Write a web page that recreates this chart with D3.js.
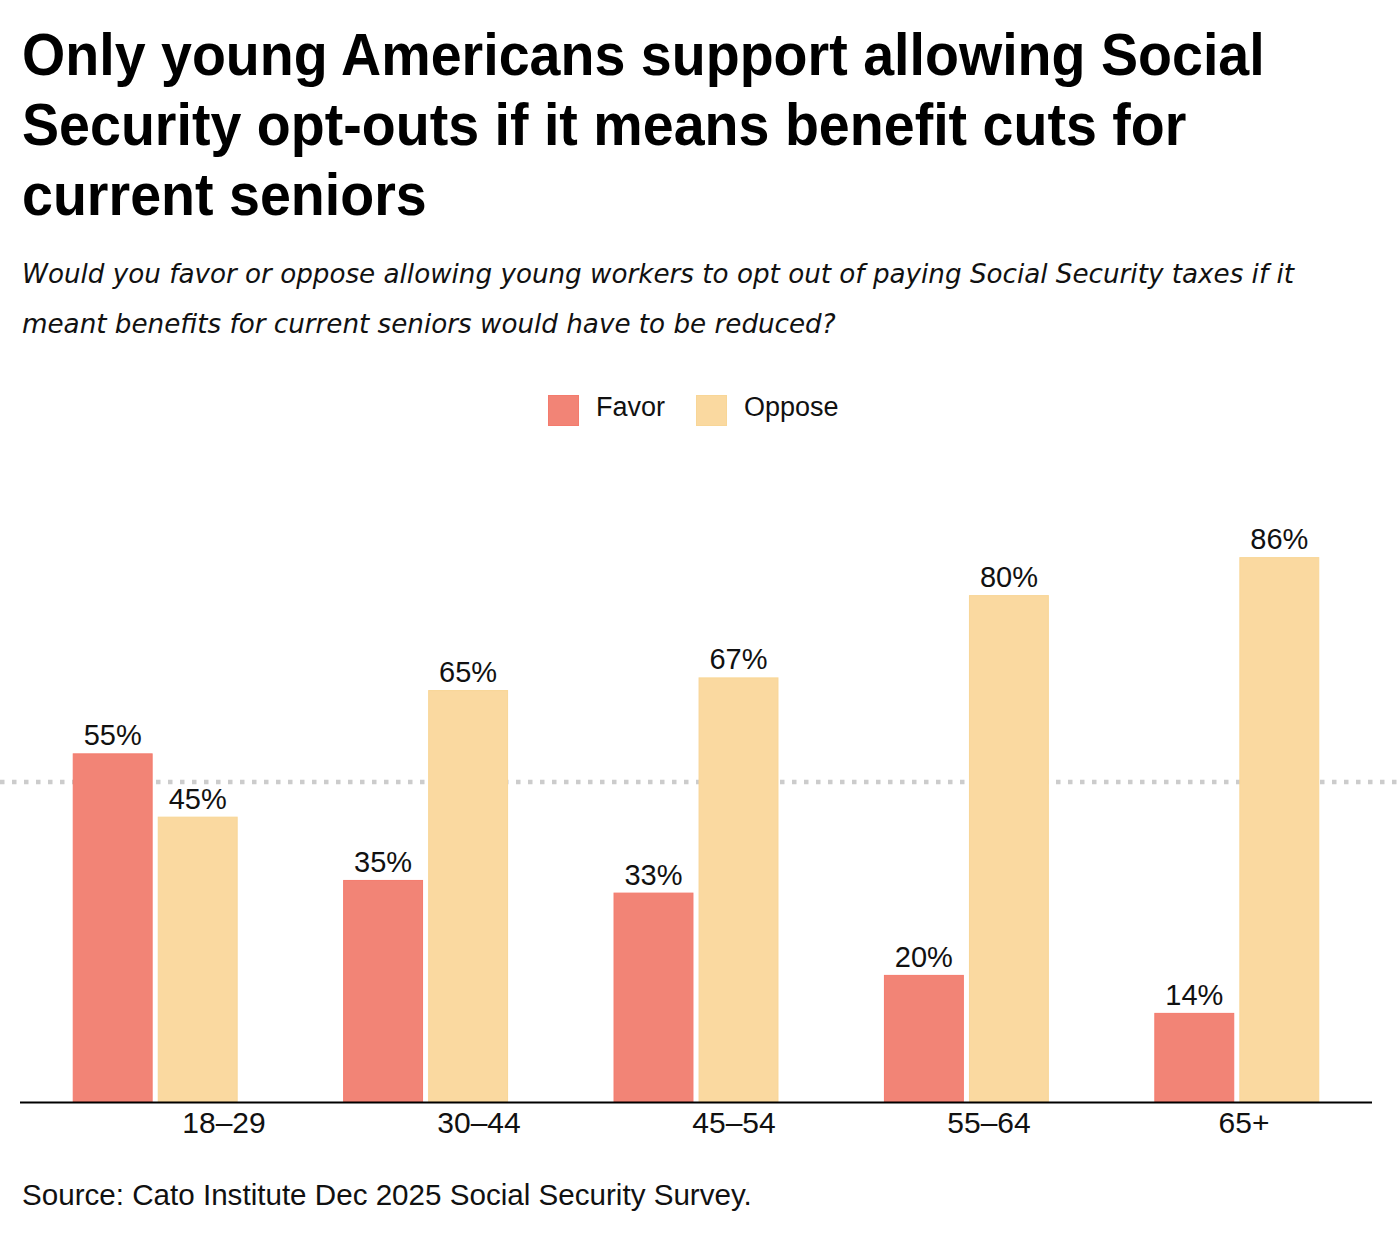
<!DOCTYPE html>
<html>
  <head>
    <title>Social Security opt-outs by age</title>
    <style>
      body,
      html {
        margin: 0;
        padding: 0;
        background: #fff;
      }
      text {
        font-family: 'Liberation Sans', Arial, sans-serif;
        fill: #111;
      }
      .title {
        font-weight: 700;
        font-size: 59px;
        fill: #000;
      }
      .subtitle {
        font-family: 'DejaVu Sans', sans-serif;
        font-style: italic;
        font-size: 26.2px;
      }
    </style>
  </head>
  <body>
    <svg id="svg" width="1400" height="1246"></svg>
    <script src="https://cdn.jsdelivr.net/npm/d3@7"></script>
    <script>
      const ageGroups = ['18–29', '30–44', '45–54', '55–64', '65+'];
      const seriesNames = ['Favor', 'Oppose'];
      const favor = [55, 35, 33, 20, 14];
      const oppose = [45, 65, 67, 80, 86];
      const referenceValue = 50;

      const titleLines = [
        'Only young Americans support allowing Social',
        'Security opt-outs if it means benefit cuts for',
        'current seniors',
      ];
      const subtitleLines = [
        'Would you favor or oppose allowing young workers to opt out of paying Social Security taxes if it',
        'meant benefits for current seniors would have to be reduced?',
      ];
      const sourceText = 'Source: Cato Institute Dec 2025 Social Security Survey.';

      const colors = { Favor: '#f28476', Oppose: '#fad9a0' };
      const strokes = { Favor: '#f47b6d', Oppose: '#f8d697' };

      const width = 1400;
      const baseY = 1101.5;

      const rows = ageGroups.map((g, i) => ({
        group: g,
        values: [
          { key: 'Favor', value: favor[i] },
          { key: 'Oppose', value: oppose[i] },
        ],
      }));

      const svg = d3.select('#svg');

      // title: no condensed face installed, so squeeze a bold one horizontally
      const title = svg
        .append('g')
        .selectAll('text')
        .data(titleLines)
        .enter()
        .append('text')
        .attr('class', 'title')
        .text((d) => d);
      const squeeze = 1243 / title.node().getComputedTextLength();
      title.attr('transform', (d, i) => `translate(22,${75 + i * 70}) scale(${squeeze},1)`);

      svg
        .append('g')
        .selectAll('text')
        .data(subtitleLines)
        .enter()
        .append('text')
        .attr('class', 'subtitle')
        .attr('x', 22)
        .attr('y', (d, i) => 283 + i * 50)
        .text((d) => d);

      // legend
      const legend = svg
        .append('g')
        .selectAll('g')
        .data(seriesNames)
        .enter()
        .append('g')
        .attr('transform', (d, i) => `translate(${548 + i * 148},395)`);
      legend
        .append('rect')
        .attr('x', 0.5)
        .attr('y', 0.5)
        .attr('width', 30)
        .attr('height', 30)
        .attr('fill', (d) => colors[d])
        .attr('stroke', (d) => strokes[d]);
      legend
        .append('text')
        .attr('x', 48)
        .attr('y', 21)
        .style('font-size', '27px')
        .text((d) => d);

      // scales
      const x0 = d3
        .scaleBand()
        .domain(ageGroups)
        .range([20, 1372])
        .paddingInner(0.39)
        .paddingOuter(0.195);

      const x1 = d3
        .scaleBand()
        .domain(seriesNames)
        .range([0, x0.bandwidth()])
        .paddingInner(0.06);

      // tick labels sit on their own band, offset from the bar groups
      const xLabels = d3.scaleBand().domain(ageGroups).range([96.5, 1371.5]);

      const y = d3.scaleLinear().domain([0, 100]).range([baseY, baseY - 633]);

      // 50% reference line
      svg
        .append('line')
        .attr('x1', 0)
        .attr('x2', width)
        .attr('y1', y(referenceValue) - 3)
        .attr('y2', y(referenceValue) - 3)
        .attr('stroke', '#cccccc')
        .attr('stroke-width', 4.5)
        .attr('stroke-dasharray', '4.5,7.5');

      // bars
      const groups = svg
        .append('g')
        .selectAll('g')
        .data(rows)
        .enter()
        .append('g')
        .attr('transform', (d) => `translate(${x0(d.group)},0)`);

      groups
        .selectAll('rect')
        .data((d) => d.values)
        .enter()
        .append('rect')
        .attr('x', (d) => x1(d.key) + 0.5)
        .attr('y', (d) => y(d.value) + 0.5)
        .attr('width', x1.bandwidth() - 1)
        .attr('height', (d) => baseY - y(d.value) - 0.5)
        .attr('fill', (d) => colors[d.key])
        .attr('stroke', (d) => strokes[d.key])
        .attr('stroke-width', 1);

      groups
        .selectAll('text')
        .data((d) => d.values)
        .enter()
        .append('text')
        .attr('x', (d) => x1(d.key) + x1.bandwidth() / 2)
        .attr('y', (d) => y(d.value) - 8)
        .attr('text-anchor', 'middle')
        .style('font-size', '29px')
        .text((d) => d.value + '%');

      // x axis
      const xAxis = svg
        .append('g')
        .attr('transform', `translate(0,${baseY + 1})`)
        .call(d3.axisBottom(xLabels).tickSize(0).tickPadding(30));
      xAxis.select('.domain').attr('d', 'M20,0H1372').attr('stroke', '#000').attr('stroke-width', 2);
      xAxis
        .selectAll('.tick text')
        .style('font-size', '30px')
        .style('font-family', "'Liberation Sans', Arial, sans-serif")
        .attr('fill', '#111')
        .attr('dy', 0);

      // source
      svg
        .append('text')
        .attr('x', 22)
        .attr('y', 1205)
        .style('font-size', '29.6px')
        .text(sourceText);
    </script>
  </body>
</html>
